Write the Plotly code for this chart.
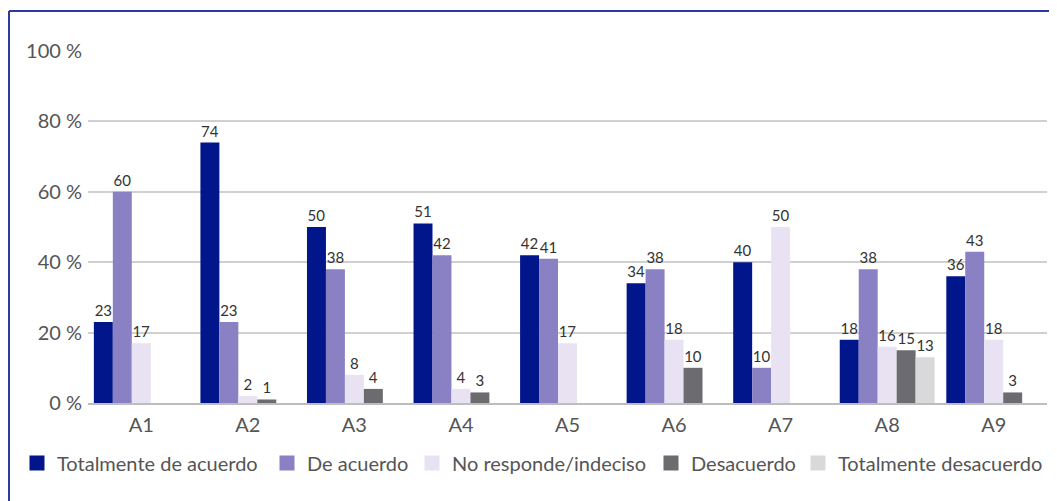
import plotly.graph_objects as go

categories = ["A1", "A2", "A3", "A4", "A5", "A6", "A7", "A8", "A9"]
series_names = ["Totalmente de acuerdo", "De acuerdo", "No responde/indeciso",
                "Desacuerdo", "Totalmente desacuerdo"]
totalmente_de_acuerdo = [23, 74, 50, 51, 42, 34, 40, 18, 36]
de_acuerdo = [60, 23, 38, 42, 41, 38, 10, 38, 43]
no_responde = [17, 2, 8, 4, 17, 18, 50, 16, 18]
desacuerdo = [None, 1, 4, 3, None, 10, None, 15, 3]
totalmente_desacuerdo = [None, None, None, None, None, None, None, 13, None]
colors = ["#00168a", "#8a80c4", "#e8e2f3", "#6b6b70", "#d9d9db"]

# page body has an 8px margin, so the figure is sized to the visible area
W, H = 1049, 493
ML, MR, MT, MB = 80, 10, 43, 98
FONT = "Lato, 'Open Sans', sans-serif"
legend_ids = ["legend", "legend2", "legend3", "legend4", "legend5"]
legend_left_px = [9, 259, 404, 643, 790]

fig = go.Figure()
all_vals = [totalmente_de_acuerdo, de_acuerdo, no_responde, desacuerdo, totalmente_desacuerdo]
for name, vals, col in zip(series_names, all_vals, colors):
    fig.add_trace(go.Bar(
        x=categories, y=vals, name=name, marker_color=col,
        marker_line_width=0, showlegend=False, legendgroup=name,
        text=[("" if v is None else str(v)) for v in vals],
        textposition="outside", cliponaxis=False,
        textfont=dict(size=15, color="#333333", family=FONT),
    ))
# legend entries (square swatches like the reference legend), one legend box each
for name, col, lid in zip(series_names, colors, legend_ids):
    fig.add_trace(go.Scatter(
        x=[None], y=[None], mode="markers", name=name, legendgroup=name,
        legend=lid, marker=dict(symbol="square", size=15, color=col),
    ))

pw = W - ML - MR
ph = H - MT - MB
left_x = (1 - ML) / pw
top_y = 1 + (MT - 3) / ph

legend_cfg = {}
for lid, lx in zip(legend_ids, legend_left_px):
    legend_cfg[lid] = dict(orientation="h", xref="container", yref="container",
                           x=lx / W, xanchor="left", y=1 - 455 / H, yanchor="middle",
                           font=dict(size=20, color="#555555"), itemwidth=30,
                           bgcolor="rgba(0,0,0,0)")

fig.update_layout(
    width=W, height=H,
    margin=dict(l=ML, r=MR, t=MT, b=MB, autoexpand=False),
    barmode="group", bargap=0.11, bargroupgap=0,
    plot_bgcolor="white", paper_bgcolor="white",
    font=dict(family=FONT, color="#555555", size=20),
    xaxis=dict(showgrid=False, showline=True, linecolor="#bdbdbd", linewidth=1.5,
               ticks="", tickfont=dict(size=20, color="#555555"), ticklabelstandoff=3),
    yaxis=dict(range=[0, 100], dtick=20, ticksuffix=" %", showgrid=True,
               gridcolor="#d0d0d0", gridwidth=1.5, zeroline=False, showline=False,
               tickfont=dict(size=20, color="#555555"), ticklabelstandoff=5),
    showlegend=True,
    shapes=[
        dict(type="line", xref="paper", yref="paper", x0=left_x, x1=1.05,
             y0=top_y, y1=top_y, line=dict(color="#2b3aa0", width=2)),
        dict(type="line", xref="paper", yref="paper", x0=left_x, x1=left_x,
             y0=top_y, y1=-0.4, line=dict(color="#2b3aa0", width=2)),
    ],
    **legend_cfg,
)

fig.write_html("out.html")
